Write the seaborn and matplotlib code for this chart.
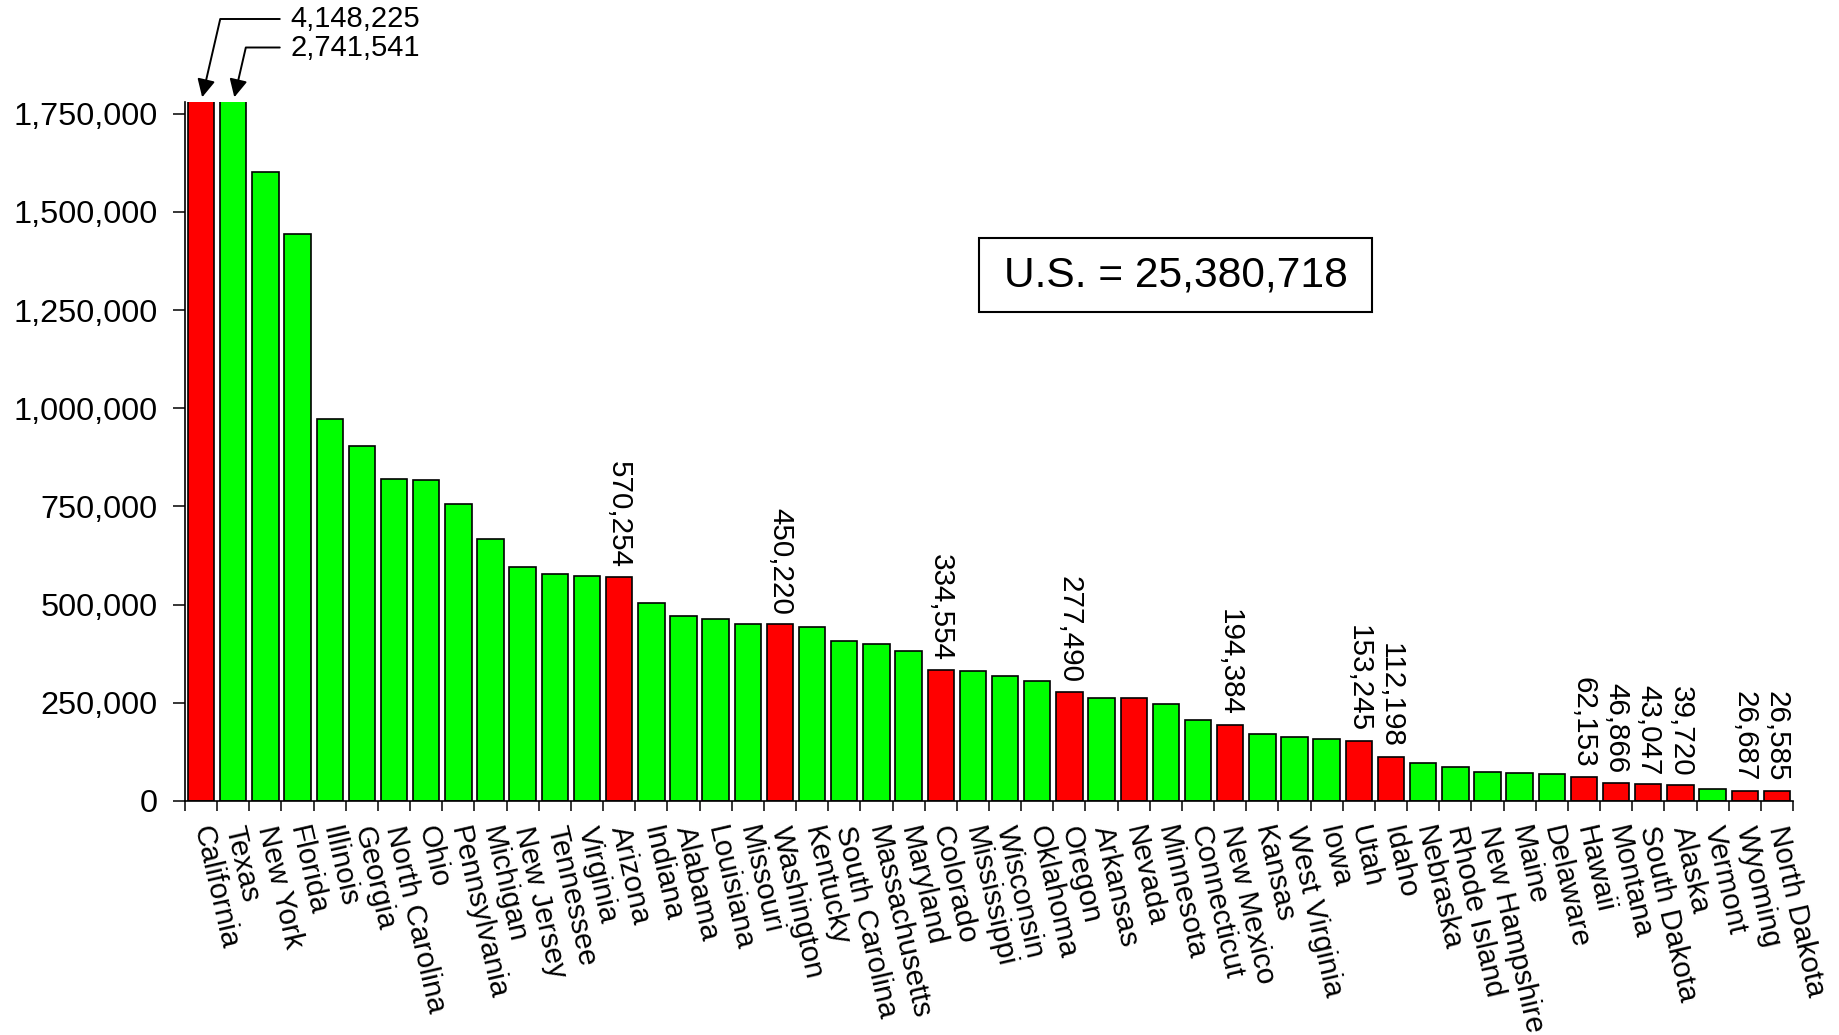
import matplotlib
matplotlib.use("Agg")
import matplotlib.pyplot as plt
import numpy as np
import pandas as pd
import seaborn as sns
from matplotlib.patches import Rectangle
from matplotlib.ticker import FuncFormatter

# Per-state counts, sorted from largest to smallest
states = [
    "California", "Texas", "New York", "Florida", "Illinois", "Georgia",
    "North Carolina", "Ohio", "Pennsylvania", "Michigan", "New Jersey",
    "Tennessee", "Virginia", "Arizona", "Indiana", "Alabama", "Louisiana",
    "Missouri", "Washington", "Kentucky", "South Carolina", "Massachusetts",
    "Maryland", "Colorado", "Mississippi", "Wisconsin", "Oklahoma", "Oregon",
    "Arkansas", "Nevada", "Minnesota", "Connecticut", "New Mexico", "Kansas",
    "West Virginia", "Iowa", "Utah", "Idaho", "Nebraska", "Rhode Island",
    "New Hampshire", "Maine", "Delaware", "Hawaii", "Montana", "South Dakota",
    "Alaska", "Vermont", "Wyoming", "North Dakota",
]
counts = [
    4148225, 2741541, 1601000, 1444000, 973500, 903000,
    820500, 817000, 757500, 667500, 597000,
    578500, 573500, 570254, 503500, 471500, 464000,
    451500, 450220, 443500, 408500, 401000,
    382000, 334554, 331000, 318000, 306000, 277490,
    263500, 263000, 247000, 207500, 194384, 171500,
    164000, 159000, 153245, 112198, 98000, 85500,
    74500, 70200, 69600, 62153, 46866, 43047,
    39720, 30200, 26687, 26585,
]

# States drawn in red; the rest are green
red_states = [
    "California", "Arizona", "Washington", "Colorado", "Oregon", "Nevada",
    "New Mexico", "Utah", "Idaho", "Hawaii", "Montana", "South Dakota",
    "Alaska", "Wyoming", "North Dakota",
]
# States whose count is written above the bar
value_labelled = [
    "Arizona", "Washington", "Colorado", "Oregon", "New Mexico", "Utah",
    "Idaho", "Hawaii", "Montana", "South Dakota", "Alaska", "Wyoming",
    "North Dakota",
]
# Bars that run past the top of the axis get an arrow callout instead
callouts = ["California", "Texas"]
us_total = 25380718

y_top = 1_780_000
y_ticks = list(range(0, 1_750_001, 250_000))

sns.set_style("white")
plt.rcParams["font.family"] = ["Liberation Sans", "DejaVu Sans"]

df = pd.DataFrame({"state": states, "count": counts})
df["group"] = np.where(df["state"].isin(red_states), "red", "green")

W, H = 1840, 1035
fig = plt.figure(figsize=(W / 100, H / 100), dpi=100)
ax = fig.add_axes([185 / W, 1 - 801 / H, 1608 / W, 699 / H])

sns.barplot(
    data=df, x="state", y="count", hue="group", order=states,
    palette={"red": "#ff0000", "green": "#00ff00"}, saturation=1,
    dodge=False, width=0.82, edgecolor="black", linewidth=1.2,
    legend=False, ax=ax,
)

ax.set_xlim(-0.5, len(states) - 0.5)
ax.set_ylim(0, y_top)
ax.set_xlabel("")
ax.set_ylabel("")

for side in ("top", "right"):
    ax.spines[side].set_visible(False)
for side in ("left", "bottom"):
    ax.spines[side].set_color("black")
    ax.spines[side].set_linewidth(1.2)

# y axis
ax.set_yticks(y_ticks)
ax.yaxis.set_major_formatter(FuncFormatter(lambda v, p: f"{int(v):,}"))
ax.tick_params(axis="y", which="major", left=True, length=8.6, width=1.1,
               pad=11, labelsize=23.4, color="black", labelcolor="black")

# x axis: names at bar centres, tick marks on bar boundaries
ax.set_xticks(np.arange(len(states)))
ax.set_xticklabels(states)
ax.set_xticks(np.arange(-0.5, len(states), 1.0), minor=True)
ax.tick_params(axis="x", which="major", bottom=True, length=0, pad=18.5,
               labelsize=21.3, labelcolor="black")
ax.tick_params(axis="x", which="minor", bottom=True, length=7, width=1.1,
               color="black")
plt.setp(ax.get_xticklabels(), rotation=-77, ha="left", va="center",
         rotation_mode="anchor")

# Vertical value labels above the highlighted bars
for name in value_labelled:
    i = states.index(name)
    v = counts[i]
    ax.annotate(f"{v:,}", xy=(i, v), xytext=(0, 6.5), textcoords="offset points",
                rotation=270, ha="center", va="bottom", fontsize=21.3,
                color="black")

# Arrow callouts for the bars cut off at the top
for name, ty in zip(callouts, [19, 47.5]):
    i = states.index(name)
    v = counts[i]
    ax.annotate(
        f"{v:,}", xy=(i, y_top), xycoords="data",
        xytext=(290 / W, 1 - ty / H), textcoords="figure fraction",
        ha="left", va="center", fontsize=21, color="black",
        annotation_clip=False,
        arrowprops=dict(
            arrowstyle="-|>,head_length=0.4,head_width=0.2",
            connectionstyle="angle,angleA=0,angleB=77,rad=0",
            relpos=(0, 0.5), shrinkA=5, shrinkB=3.5, mutation_scale=27,
            lw=1.4, color="black",
        ),
    )

# National total in a boxed note
box_l, box_t, box_r, box_b = 979, 238, 1372, 312
fig.patches.append(Rectangle(
    (box_l / W, 1 - box_b / H), (box_r - box_l) / W, (box_b - box_t) / H,
    transform=fig.transFigure, fc="white", ec="black", lw=1.5, zorder=3))
fig.text((box_l + box_r) / 2 / W, 1 - (box_t + box_b) / 2 / H,
         f"U.S. = {us_total:,}", fontsize=30.6, ha="center", va="center",
         color="black", zorder=4)

fig.savefig("out.png", dpi=100, facecolor="white")
